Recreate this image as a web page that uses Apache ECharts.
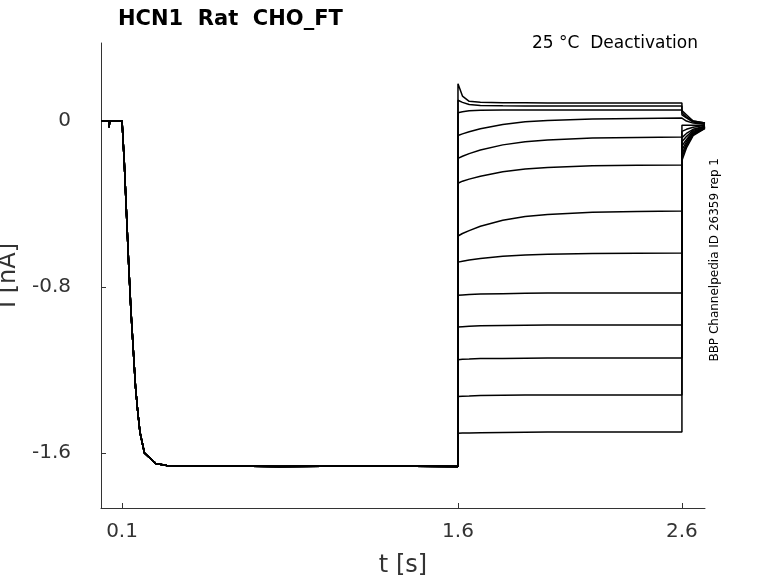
<!DOCTYPE html>
<html>
<head>
<meta charset="utf-8">
<script src="https://cdn.jsdelivr.net/npm/echarts@6/dist/echarts.min.js"></script>
<style>html,body{margin:0;padding:0;background:#fff}#chart{width:778px;height:583px}</style>
</head>
<body>
<div id="chart"></div>
<script>
// activation phase (shared by all sweeps)
let actTimes = [0.006, 0.04, 0.042, 0.045, 0.1, 0.11, 0.12, 0.13, 0.14, 0.15, 0.16, 0.17, 0.18, 0.2, 0.25, 0.3, 0.8, 1.2, 1.6];
let actValues = [0, 0, -0.03, 0, 0, -0.2, -0.45, -0.7, -0.92, -1.1, -1.28, -1.4, -1.5, -1.6, -1.65, -1.66, -1.665, -1.662, -1.665];

// deactivation phase
let deactTimes = [1.6, 1.62, 1.65, 1.7, 1.8, 1.9, 2.0, 2.2, 2.4, 2.6];
let deactValues = [
    [0.18, 0.12, 0.095, 0.09, 0.088, 0.088, 0.087, 0.087, 0.087, 0.087],
    [0.10, 0.09, 0.08, 0.075, 0.073, 0.072, 0.072, 0.072, 0.072, 0.072],
    [0.04, 0.045, 0.05, 0.052, 0.053, 0.053, 0.053, 0.053, 0.053, 0.053],
    [-0.07, -0.062, -0.052, -0.037, -0.017, -0.004, 0.002, 0.010, 0.012, 0.014],
    [-0.18, -0.17, -0.157, -0.14, -0.115, -0.10, -0.091, -0.082, -0.079, -0.077],
    [-0.30, -0.29, -0.28, -0.266, -0.245, -0.231, -0.224, -0.216, -0.213, -0.212],
    [-0.554, -0.542, -0.528, -0.507, -0.478, -0.46, -0.451, -0.44, -0.436, -0.434],
    [-0.68, -0.676, -0.67, -0.663, -0.652, -0.646, -0.642, -0.638, -0.637, -0.636],
    [-0.84, -0.838, -0.836, -0.834, -0.832, -0.830, -0.829, -0.829, -0.829, -0.829],
    [-0.993, -0.991, -0.989, -0.987, -0.985, -0.984, -0.983, -0.983, -0.983, -0.983],
    [-1.15, -1.148, -1.147, -1.145, -1.144, -1.143, -1.142, -1.142, -1.142, -1.142],
    [-1.328, -1.326, -1.325, -1.323, -1.322, -1.321, -1.320, -1.320, -1.320, -1.320],
    [-1.505, -1.504, -1.503, -1.502, -1.501, -1.500, -1.499, -1.499, -1.499, -1.499]
];

// tail phase
let tailTimes = [2.6, 2.62, 2.65, 2.703];
let tailValues = [
    [0.05, 0.03, 0.0, -0.01],
    [0.04, 0.02, 0.0, -0.01],
    [0.03, 0.015, -0.005, -0.015],
    [0.01, 0.0, -0.01, -0.015],
    [-0.02, -0.02, -0.02, -0.02],
    [-0.05, -0.04, -0.03, -0.02],
    [-0.08, -0.06, -0.04, -0.025],
    [-0.10, -0.075, -0.045, -0.025],
    [-0.12, -0.09, -0.05, -0.03],
    [-0.14, -0.10, -0.055, -0.03],
    [-0.16, -0.11, -0.06, -0.03],
    [-0.175, -0.12, -0.065, -0.035],
    [-0.19, -0.13, -0.07, -0.035]
];

let xTicks = [0.1, 1.6, 2.6];
let yTicks = [0, -0.8, -1.6];

let seriesList = deactValues.map(function (dv, i) {
    let pts = actTimes.map(function (t, k) { return [t, actValues[k]]; });
    deactTimes.forEach(function (t, k) { pts.push([t, dv[k]]); });
    tailTimes.forEach(function (t, k) { pts.push([t, tailValues[i][k]]); });
    return {
        type: 'line', data: pts, symbol: 'none', silent: true,
        lineStyle: { color: '#000', width: 1.5 }
    };
});

let chart = echarts.init(document.getElementById('chart'));
chart.setOption({
    animation: false,
    grid: { left: 101, right: 73, top: 43, bottom: 75, containLabel: false, outerBoundsMode: 'none' },
    title: [
        { text: 'HCN1  Rat  CHO_FT', left: 113, top: 4, textStyle: { fontFamily: 'DejaVu Sans', fontWeight: 'bold', fontSize: 21, color: '#000' } },
        { text: '25 °C  Deactivation', right: 75, top: 30, textStyle: { fontFamily: 'DejaVu Sans', fontWeight: 'normal', fontSize: 17, color: '#000' } }
    ],
    graphic: [{
        type: 'text', left: 709, top: 158, rotation: Math.PI / 2,
        style: { text: 'BBP Channelpedia ID 26359 rep 1', fontFamily: 'DejaVu Sans', fontSize: 12, fill: '#000' }
    }],
    xAxis: {
        type: 'value', min: 0.006, max: 2.703,
        name: 't [s]', nameLocation: 'middle', nameGap: 46,
        nameTextStyle: { fontFamily: 'DejaVu Sans', fontSize: 24, color: '#333' },
        splitLine: { show: false },
        axisLine: { onZero: false, lineStyle: { color: '#333' } },
        axisTick: { inside: true, customValues: xTicks, lineStyle: { color: '#333' } },
        axisLabel: { customValues: xTicks, fontFamily: 'DejaVu Sans', fontSize: 20, color: '#333', margin: 14 }
    },
    yAxis: {
        type: 'value', min: -1.865, max: 0.376,
        name: 'I [nA]', nameLocation: 'middle', nameGap: 62,
        nameTextStyle: { fontFamily: 'DejaVu Sans', fontSize: 24, color: '#333' },
        splitLine: { show: false },
        axisLine: { show: true, onZero: false, lineStyle: { color: '#333' } },
        axisTick: { show: true, inside: true, customValues: yTicks, lineStyle: { color: '#333' } },
        axisLabel: { customValues: yTicks, fontFamily: 'DejaVu Sans', fontSize: 20, color: '#333', margin: 30 }
    },
    series: seriesList
});
</script>
</body>
</html>
